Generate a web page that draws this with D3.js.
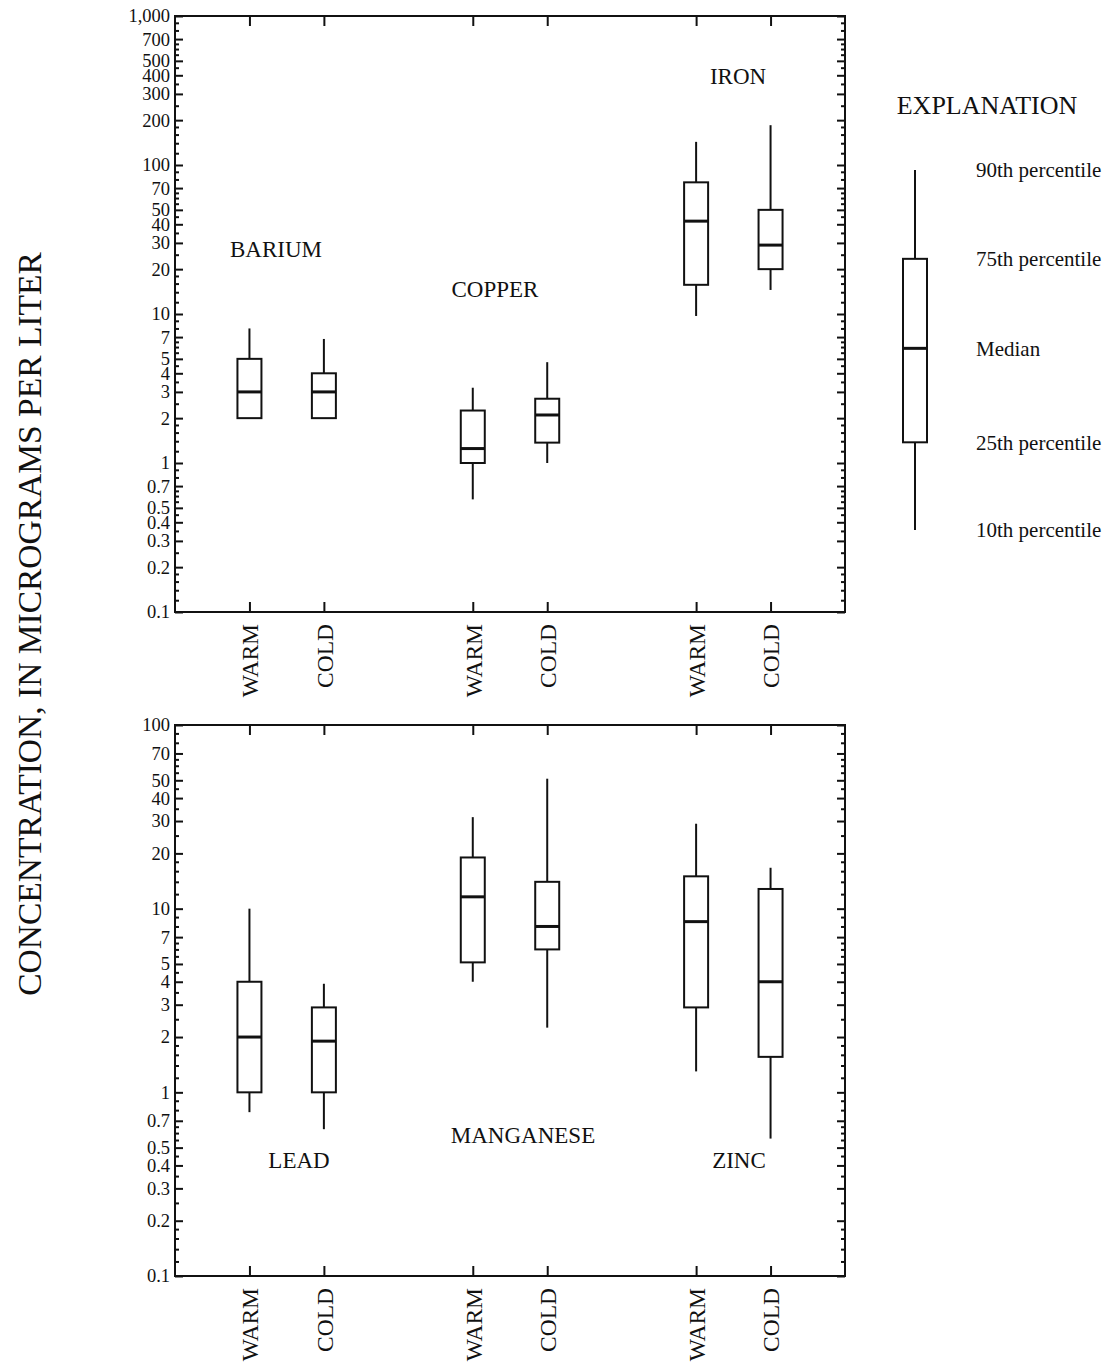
<!DOCTYPE html>
<html>
<head>
<meta charset="utf-8">
<script src="https://cdn.jsdelivr.net/npm/d3@7"></script>
<style>
  html, body { margin: 0; padding: 0; background: #fff; }
  svg { display: block; }
  text { font-family: "Liberation Serif", "Times New Roman", serif; fill: #111; }
</style>
</head>
<body>
<svg id="chart" width="1112" height="1366"></svg>
<script>
// Trace elements, warm vs cold season; each element has a WARM and a COLD box
const elements = ["BARIUM", "COPPER", "IRON", "LEAD", "MANGANESE", "ZINC"];
const seasons = ["WARM", "COLD"];
const panelOf = [0, 0, 0, 1, 1, 1];          // which panel each element is drawn in
const groupOf = [0, 1, 2, 0, 1, 2];          // column group inside its panel

// Percentiles, micrograms per liter, ordered element by element (WARM, COLD)
const p90 = [8, 6.8, 3.2, 4.75, 143, 185, 10, 3.9, 31.5, 51, 29, 16.7];
const p75 = [5, 4, 2.25, 2.7, 76.5, 50, 4, 2.9, 19, 14, 15, 12.8];
const p50 = [3, 3, 1.25, 2.1, 42, 29, 2, 1.9, 11.6, 8, 8.5, 4];
const p25 = [2, 2, 1, 1.37, 15.7, 20, 1, 1, 5.1, 6, 2.9, 1.56];
const p10 = [2, 2, 0.57, 1, 9.7, 14.5, 0.78, 0.63, 4, 2.25, 1.3, 0.56];

// Axis ranges for the two panels
const panelDomains = [[0.1, 1000], [0.1, 100]];
// Labelled and unlabelled tick mantissas used in every decade
const majorMantissas = [1, 2, 3, 4, 5, 7];
const minorMantissas = [1.2, 1.4, 1.6, 1.8, 2.5, 3.5, 4.5, 5.5, 6, 6.5, 8, 9];

// Explanation box (generic example values)
const legendValues = { p10: 0.36, p25: 1.4, p50: 6, p75: 24, p90: 95 };
const legendLabels = ["90th percentile", "75th percentile", "Median", "25th percentile", "10th percentile"];

const svg = d3.select("#chart");

const left = 175, right = 845;
const panels = [
  { top: 16, bottom: 612 },
  { top: 725, bottom: 1276 }
];

// slot index along x: groups are three slots apart, WARM and COLD one slot apart
const x = d3.scaleLinear().domain([-1, 8]).range([left, right]);
const slotOf = (g, s) => g * 3 + s;
const boxW = 24;

function decadeTicks(domain, mantissas) {
  const out = [];
  const lo = Math.round(Math.log10(domain[0])), hi = Math.round(Math.log10(domain[1]));
  for (let e = lo; e <= hi; e++) {
    mantissas.forEach(m => {
      const v = +(m * Math.pow(10, e)).toPrecision(6);
      if (v >= domain[0] - 1e-12 && v <= domain[1] + 1e-12) out.push(v);
    });
  }
  return out;
}

const fmt = v => v >= 1000 ? d3.format(",")(v) : String(v);

panels.forEach((p, pi) => {
  const domain = panelDomains[pi];
  const y = d3.scaleLog().domain(domain).range([p.bottom, p.top]);
  p.y = y;
  const g = svg.append("g");

  const majors = decadeTicks(domain, majorMantissas);
  const minors = decadeTicks(domain, minorMantissas);

  // left axis: labels outside, ticks pointing inward
  const leftMajor = d3.axisLeft(y).tickValues(majors).tickSize(-8).tickFormat(fmt).tickPadding(5);
  const gl = g.append("g").attr("transform", `translate(${left},0)`).call(leftMajor);
  gl.select(".domain").remove();
  gl.selectAll("text").attr("font-size", 18.5).attr("font-family", "Liberation Serif, serif").attr("fill", "#111");
  gl.selectAll("line").attr("stroke", "#111").attr("stroke-width", 2);
  const leftMinor = d3.axisLeft(y).tickValues(minors).tickSize(-4).tickFormat("");
  const glm = g.append("g").attr("transform", `translate(${left},0)`).call(leftMinor);
  glm.select(".domain").remove();
  glm.selectAll("line").attr("stroke", "#111").attr("stroke-width", 2);

  // right axis: ticks pointing inward, no labels
  const rightMajor = d3.axisRight(y).tickValues(majors).tickSize(-8).tickFormat("");
  const gr = g.append("g").attr("transform", `translate(${right},0)`).call(rightMajor);
  gr.select(".domain").remove();
  gr.selectAll("line").attr("stroke", "#111").attr("stroke-width", 2);
  const rightMinor = d3.axisRight(y).tickValues(minors).tickSize(-4).tickFormat("");
  const grm = g.append("g").attr("transform", `translate(${right},0)`).call(rightMinor);
  grm.select(".domain").remove();
  grm.selectAll("line").attr("stroke", "#111").attr("stroke-width", 2);

  // category axes along bottom (labels) and top (ticks only)
  const slots = [];
  [0, 1, 2].forEach(gi => seasons.forEach((s, si) => slots.push({ slot: slotOf(gi, si), name: s })));
  const xb = d3.axisBottom(x).tickValues(slots.map(d => d.slot)).tickSize(-10)
    .tickFormat((d, i) => slots[i].name);
  const gb = g.append("g").attr("transform", `translate(0,${p.bottom})`).call(xb);
  gb.select(".domain").remove();
  gb.selectAll("line").attr("stroke", "#111").attr("stroke-width", 2);
  gb.selectAll("text")
    .attr("font-size", 23.5).attr("font-family", "Liberation Serif, serif").attr("fill", "#111")
    .attr("transform", "rotate(-90)")
    .attr("text-anchor", "end")
    .attr("x", -12).attr("y", 0).attr("dy", "0.35em");
  const xt = d3.axisTop(x).tickValues(slots.map(d => d.slot)).tickSize(-10).tickFormat("");
  const gt = g.append("g").attr("transform", `translate(0,${p.top})`).call(xt);
  gt.select(".domain").remove();
  gt.selectAll("line").attr("stroke", "#111").attr("stroke-width", 2);

  // frame
  g.append("rect")
    .attr("x", left).attr("y", p.top)
    .attr("width", right - left).attr("height", p.bottom - p.top)
    .attr("fill", "none").attr("stroke", "#111").attr("stroke-width", 2);
});

// boxes
elements.forEach((el, ei) => {
  const y = panels[panelOf[ei]].y;
  seasons.forEach((s, si) => {
    const k = ei * 2 + si;
    const cx = x(slotOf(groupOf[ei], si));
    const g = svg.append("g");
    g.append("line").attr("x1", cx).attr("x2", cx).attr("y1", y(p90[k])).attr("y2", y(p75[k]))
      .attr("stroke", "#111").attr("stroke-width", 2);
    g.append("line").attr("x1", cx).attr("x2", cx).attr("y1", y(p25[k])).attr("y2", y(p10[k]))
      .attr("stroke", "#111").attr("stroke-width", 2);
    g.append("rect").attr("x", cx - boxW / 2).attr("width", boxW)
      .attr("y", y(p75[k])).attr("height", y(p25[k]) - y(p75[k]))
      .attr("fill", "#fff").attr("stroke", "#111").attr("stroke-width", 2);
    g.append("line").attr("x1", cx - boxW / 2).attr("x2", cx + boxW / 2)
      .attr("y1", y(p50[k])).attr("y2", y(p50[k]))
      .attr("stroke", "#111").attr("stroke-width", 3);
  });
});

// element names inside the panels
const nameSpots = [
  { cx: 276, y: 257 }, { cx: 495, y: 297 }, { cx: 738, y: 84 },
  { cx: 299, y: 1168 }, { cx: 523, y: 1143 }, { cx: 739, y: 1168 }
];
elements.forEach((el, i) => {
  svg.append("text").attr("x", nameSpots[i].cx).attr("y", nameSpots[i].y)
    .attr("text-anchor", "middle").attr("font-size", 23).text(el);
});

// y-axis title
svg.append("text")
  .attr("transform", "translate(41,624) rotate(-90)")
  .attr("text-anchor", "middle")
  .attr("font-size", 33.5)
  .text("CONCENTRATION, IN MICROGRAMS PER LITER");

// explanation
const ly = d3.scaleLog().domain([legendValues.p10, legendValues.p90]).range([530, 170]);
const lx = 915;
svg.append("text").attr("x", 987).attr("y", 114).attr("text-anchor", "middle")
  .attr("font-size", 26).text("EXPLANATION");
const lg = svg.append("g");
lg.append("line").attr("x1", lx).attr("x2", lx).attr("y1", ly(legendValues.p90)).attr("y2", ly(legendValues.p75))
  .attr("stroke", "#111").attr("stroke-width", 2);
lg.append("line").attr("x1", lx).attr("x2", lx).attr("y1", ly(legendValues.p25)).attr("y2", ly(legendValues.p10))
  .attr("stroke", "#111").attr("stroke-width", 2);
lg.append("rect").attr("x", lx - boxW / 2).attr("width", boxW)
  .attr("y", ly(legendValues.p75)).attr("height", ly(legendValues.p25) - ly(legendValues.p75))
  .attr("fill", "#fff").attr("stroke", "#111").attr("stroke-width", 2);
lg.append("line").attr("x1", lx - boxW / 2).attr("x2", lx + boxW / 2)
  .attr("y1", ly(legendValues.p50)).attr("y2", ly(legendValues.p50))
  .attr("stroke", "#111").attr("stroke-width", 3);
const legendKeys = ["p90", "p75", "p50", "p25", "p10"];
legendLabels.forEach((t, i) => {
  svg.append("text").attr("x", 976).attr("y", ly(legendValues[legendKeys[i]]))
    .attr("dy", "0.35em").attr("font-size", 21).text(t);
});
</script>
</body>
</html>
